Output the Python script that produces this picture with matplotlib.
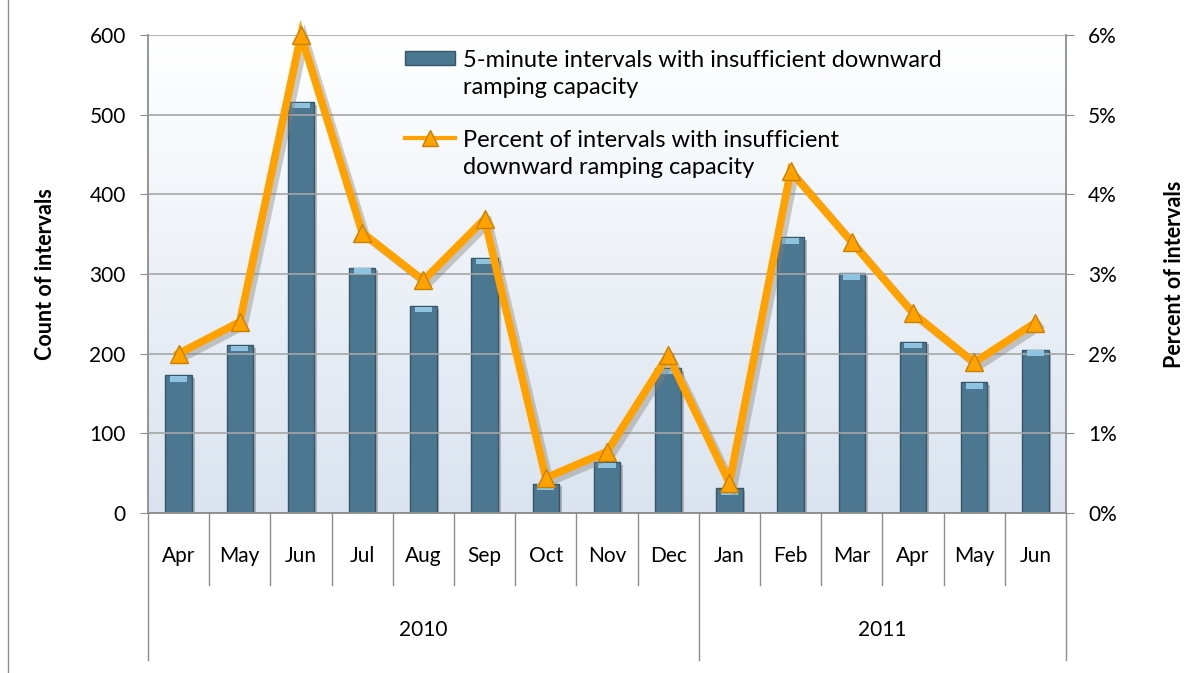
import numpy as np
import matplotlib
matplotlib.use('Agg')
import matplotlib.pyplot as plt
import matplotlib.patheffects as pe
from matplotlib.patches import Rectangle
from matplotlib.lines import Line2D
from matplotlib.colors import LinearSegmentedColormap
from matplotlib.transforms import blended_transform_factory

plt.rcParams['font.family'] = ['Lato', 'DejaVu Sans']

months = ["Apr", "May", "Jun", "Jul", "Aug", "Sep", "Oct", "Nov", "Dec",
          "Jan", "Feb", "Mar", "Apr", "May", "Jun"]
years = ["2010", "2011"]
year_counts = [9, 6]
counts = [173, 211, 516, 308, 260, 320, 37, 64, 182, 31, 346, 301, 215, 164, 205]
percent = [2.0, 2.4, 6.0, 3.52, 2.92, 3.69, 0.44, 0.77, 1.98, 0.38, 4.29, 3.40, 2.51, 1.89, 2.39]
labels = ["5-minute intervals with insufficient downward\nramping capacity",
          "Percent of intervals with insufficient\ndownward ramping capacity"]

BAR = '#4C7790'; BAR_EDGE = '#36566A'; ORANGE = '#FFA200'; ORANGE_EDGE = '#C98000'
GRID = '#A6A6A6'; AXC = '#8C8C8C'
FS = 15
W, H = 1199, 673

fig = plt.figure(figsize=(W/100, H/100), dpi=100)
ax = fig.add_axes([148/W, 1-513/H, (1066-148)/W, (513-35)/H])
x = np.arange(len(months))
ax.set_xlim(-0.5, len(months)-0.5); ax.set_ylim(0, 600)

# gradient background
grad = np.linspace(0, 1, 256).reshape(-1, 1)
cm = LinearSegmentedColormap.from_list('bg', ['#DAE3EF', '#FFFFFF'])
ax.imshow(grad, extent=(-0.5, len(months)-0.5, 0, 600), origin='lower', aspect='auto', cmap=cm, zorder=0)

ax.set_yticks(range(0, 601, 100))
ax.yaxis.grid(True, color=GRID, lw=1.2, zorder=1); ax.set_axisbelow(False)
bars = ax.bar(x, counts, width=0.43, color=BAR, edgecolor=BAR_EDGE, lw=1.0, zorder=2)
for b in bars:
    b.set_path_effects([pe.SimplePatchShadow(offset=(2, -2), shadow_rgbFace='gray', alpha=0.5), pe.Normal()])
# light cap on top of each bar
ax.bar(x, [7]*len(x), bottom=np.array(counts)-8, width=0.28, color='#8FC3E0', lw=0, zorder=3)

ax.set_xticks([])
for s in ['top', 'right', 'bottom']:
    ax.spines[s].set_visible(False)
ax.spines['left'].set_color(AXC); ax.spines['left'].set_linewidth(1.3)
ax.tick_params(axis='y', length=6, color=AXC, labelsize=FS, pad=10)
ax.set_ylabel("Count of intervals", fontsize=FS+0.5, fontweight='bold', labelpad=24)
ax.axhline(0, color=AXC, lw=1.3, zorder=4, clip_on=False)

ax2 = ax.twinx()
ax2.set_ylim(0, 6)
ax2.set_yticks(range(0, 7))
ax2.set_yticklabels([f"{v}%" for v in range(0, 7)])
for s in ['top', 'left', 'bottom']:
    ax2.spines[s].set_visible(False)
ax2.spines['right'].set_color(AXC); ax2.spines['right'].set_linewidth(1.3)
ax2.tick_params(axis='y', length=6, color=AXC, labelsize=FS, pad=10)
ax2.set_ylabel("Percent of intervals", fontsize=FS+0.5, fontweight='bold', labelpad=34)
ax2.plot(x, percent, color=ORANGE, lw=5.5, solid_joinstyle='miter', clip_on=False, zorder=5,
         path_effects=[pe.SimpleLineShadow(offset=(3, -3), shadow_color='gray', alpha=0.4), pe.Normal()])
ax2.plot(x, percent, ls='none', marker='^', ms=13, mfc=ORANGE, mec=ORANGE_EDGE, mew=1,
         clip_on=False, zorder=6)

# category axis (months / years)
tr = blended_transform_factory(ax.transData, ax.transAxes)
for i, m in enumerate(months):
    ax.text(i, -0.09, m, transform=tr, ha='center', va='center', fontsize=FS)
bounds = np.cumsum([0] + year_counts) - 0.5
for i in range(len(months)+1):
    xb = i - 0.5
    ylow = -0.307 if xb in bounds else -0.15
    ax.plot([xb, xb], [0, ylow], transform=tr, color=AXC, lw=1, clip_on=False)
for yr, lo, hi in zip(years, bounds[:-1], bounds[1:]):
    ax.text((lo+hi)/2, -0.245, yr, transform=tr, ha='center', va='center', fontsize=FS)

# left border of chart area
fig.add_artist(Line2D([8/W, 8/W], [0, 1], color=AXC, lw=1))

# legend drawn by hand so the line spacing matches
fx = lambda px: px/W
fy = lambda py: 1-py/H
fig.add_artist(Rectangle((fx(405), fy(65)), 50/W, 14/H, facecolor=BAR, edgecolor=BAR_EDGE,
                         lw=1, transform=fig.transFigure, zorder=10))
fig.add_artist(Line2D([fx(405), fx(455)], [fy(138), fy(138)], color=ORANGE, lw=3,
                      transform=fig.transFigure, zorder=10))
fig.add_artist(Line2D([fx(430)], [fy(138)], marker='^', ms=12, mfc=ORANGE, mec=ORANGE_EDGE,
                      transform=fig.transFigure, zorder=11))
for lab, yc in zip(labels, [74, 154]):
    fig.text(fx(463), fy(yc), lab, ha='left', va='center', fontsize=17, linespacing=1.36, zorder=12)

fig.savefig('out.png', dpi=100)
